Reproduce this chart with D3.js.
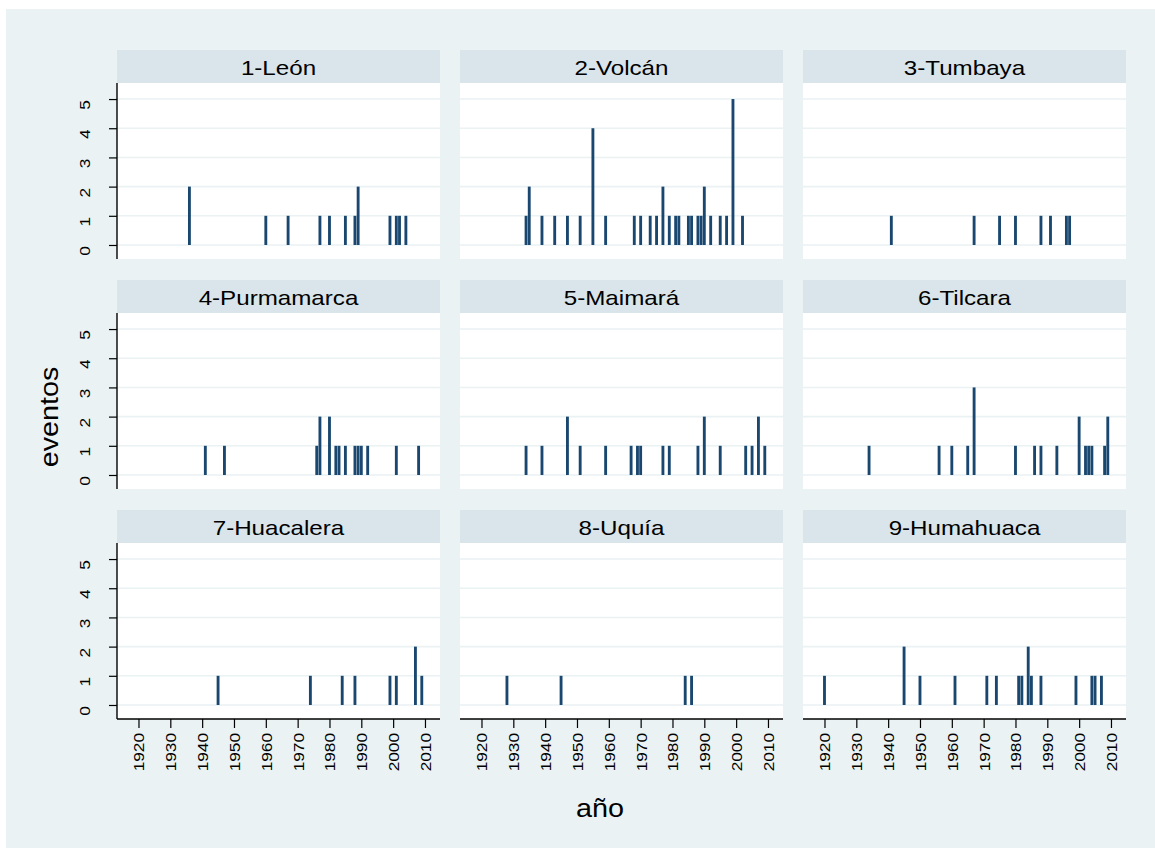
<!DOCTYPE html>
<html>
<head>
<meta charset="utf-8">
<script src="https://cdn.jsdelivr.net/npm/d3@7"></script>
<style>
  html, body { margin: 0; padding: 0; background: #ffffff; }
  svg { display: block; }
  text { font-family: Arial, "Liberation Sans", sans-serif; fill: #000; }
</style>
</head>
<body>
<svg id="chart" width="1155" height="848"></svg>
<script>
// Panel titles (municipios), in display order
const municipios = ["1-León", "2-Volcán", "3-Tumbaya",
                    "4-Purmamarca", "5-Maimará", "6-Tilcara",
                    "7-Huacalera", "8-Uquía", "9-Humahuaca"];

// Tick values
const aniosTicks = [1920, 1930, 1940, 1950, 1960, 1970, 1980, 1990, 2000, 2010];
const eventosTicks = [0, 1, 2, 3, 4, 5];

// Events per year for each municipio: [año, eventos]
const leon = [[1936,2],[1960,1],[1967,1],[1977,1],[1980,1],[1985,1],[1988,1],[1989,2],
              [1999,1],[2001,1],[2002,1],[2004,1]];
const volcan = [[1934,1],[1935,2],[1939,1],[1943,1],[1947,1],[1951,1],[1955,4],[1959,1],
                [1968,1],[1970,1],[1973,1],[1975,1],[1977,2],[1979,1],[1981,1],[1982,1],
                [1985,1],[1986,1],[1988,1],[1989,1],[1990,2],[1992,1],[1995,1],[1997,1],
                [1999,5],[2002,1]];
const tumbaya = [[1941,1],[1967,1],[1975,1],[1980,1],[1988,1],[1991,1],[1996,1],[1997,1]];
const purmamarca = [[1941,1],[1947,1],[1976,1],[1977,2],[1980,2],[1982,1],[1983,1],[1985,1],
                    [1988,1],[1989,1],[1990,1],[1992,1],[2001,1],[2008,1]];
const maimara = [[1934,1],[1939,1],[1947,2],[1951,1],[1959,1],[1967,1],[1969,1],[1970,1],
                 [1977,1],[1979,1],[1988,1],[1990,2],[1995,1],[2003,1],[2005,1],[2007,2],[2009,1]];
const tilcara = [[1934,1],[1956,1],[1960,1],[1965,1],[1967,3],[1980,1],[1986,1],[1988,1],
                 [1993,1],[2000,2],[2002,1],[2003,1],[2004,1],[2008,1],[2009,2]];
const huacalera = [[1945,1],[1974,1],[1984,1],[1988,1],[1999,1],[2001,1],[2007,2],[2009,1]];
const uquia = [[1928,1],[1945,1],[1984,1],[1986,1]];
const humahuaca = [[1920,1],[1945,2],[1950,1],[1961,1],[1971,1],[1974,1],[1981,1],[1982,1],
                   [1984,2],[1985,1],[1988,1],[1999,1],[2004,1],[2005,1],[2007,1]];

const series = [leon, volcan, tumbaya, purmamarca, maimara, tilcara, huacalera, uquia, humahuaca];

// ---- layout ----
const W = 1155, H = 848;
const panelW = 323, plotH = 176, stripH = 33;
const colLeft = [117, 460, 803];
const rowTop = [50, 280, 510];           // top of each strip
const barWidthYears = 0.9;
const navy = "#1a476f";
const bgRegion = "#eaf2f3";
const stripFill = "#d9e5ea";
const gridColor = "#eaf2f3";
const stretch = 1.15;                    // horizontal widening of the type

const svg = d3.select("#chart");

// stretch a text node along its writing direction
function widen(sel, f) {
  sel.each(function () {
    const len = this.getComputedTextLength();
    d3.select(this).attr("textLength", len * (f || stretch)).attr("lengthAdjust", "spacingAndGlyphs");
  });
}

// graph region
svg.append("rect").attr("x", 6).attr("y", 9).attr("width", W - 6).attr("height", H - 9)
  .attr("fill", bgRegion);

const x = d3.scaleLinear().domain([1913.25, 2014.72]).range([0, panelW]);
const y = d3.scaleLinear().domain([-0.48, 5.55]).range([plotH, 0]);

series.forEach((data, i) => {
  const col = i % 3, row = Math.floor(i / 3);
  const g = svg.append("g").attr("transform", `translate(${colLeft[col]},${rowTop[row]})`);

  // strip with the municipio name
  g.append("rect").attr("x", 0).attr("y", 0).attr("width", panelW).attr("height", stripH)
    .attr("fill", stripFill);
  g.append("text").attr("x", panelW / 2).attr("y", 25).attr("text-anchor", "middle")
    .attr("font-size", 21).text(municipios[i]).call(widen);

  const p = g.append("g").attr("transform", `translate(0,${stripH})`);
  p.append("rect").attr("width", panelW).attr("height", plotH).attr("fill", "#fff");

  // horizontal grid
  p.selectAll("line.grid").data(eventosTicks).join("line").attr("class", "grid")
    .attr("x1", 0).attr("x2", panelW)
    .attr("y1", d => y(d)).attr("y2", d => y(d))
    .attr("stroke", gridColor).attr("stroke-width", 1.6);

  // bars
  p.selectAll("rect.bar").data(data).join("rect").attr("class", "bar")
    .attr("x", d => x(d[0] - barWidthYears / 2))
    .attr("width", d => x(d[0] + barWidthYears / 2) - x(d[0] - barWidthYears / 2))
    .attr("y", d => y(d[1]))
    .attr("height", d => y(0) - y(d[1]))
    .attr("fill", navy);

  // y axis on the first column
  if (col === 0) {
    const ya = p.append("g");
    ya.call(d3.axisLeft(y).tickValues(eventosTicks).tickSize(8).tickFormat(d3.format("d")));
    ya.select(".domain").remove();
    ya.append("line").attr("x1", 0).attr("x2", 0).attr("y1", 0).attr("y2", plotH)
      .attr("stroke", "#000").attr("stroke-width", 1.4);
    ya.selectAll(".tick line").attr("stroke", "#000").attr("stroke-width", 1.2);
    ya.selectAll(".tick text").attr("font-size", 15).attr("font-family", "Arial, 'Liberation Sans', sans-serif")
      .attr("fill", "#000").attr("x", null).attr("dy", null)
      .attr("text-anchor", "middle")
      .attr("transform", "translate(-27,5.5) rotate(-90)")
      .call(widen);
  }

  // x axis on the bottom row
  if (row === 2) {
    const xa = p.append("g").attr("transform", `translate(0,${plotH})`);
    xa.call(d3.axisBottom(x).tickValues(aniosTicks).tickSize(9).tickFormat(d3.format("d")));
    xa.select(".domain").remove();
    xa.append("line").attr("x1", 0).attr("x2", panelW).attr("y1", 0).attr("y2", 0)
      .attr("stroke", "#000").attr("stroke-width", 1.4);
    xa.selectAll(".tick line").attr("stroke", "#000").attr("stroke-width", 1.2);
    xa.selectAll(".tick text").attr("font-size", 15).attr("font-family", "Arial, 'Liberation Sans', sans-serif")
      .attr("fill", "#000").attr("y", null).attr("dy", null)
      .attr("text-anchor", "end")
      .attr("transform", "translate(5.5,14) rotate(-90)")
      .call(widen);
  }
});

// axis titles
svg.append("text").attr("transform", "translate(58,417) rotate(-90)")
  .attr("text-anchor", "middle").attr("font-size", 25).text("eventos").call(widen);
svg.append("text").attr("x", 600).attr("y", 817)
  .attr("text-anchor", "middle").attr("font-size", 25).text("año").call(widen);
</script>
</body>
</html>
